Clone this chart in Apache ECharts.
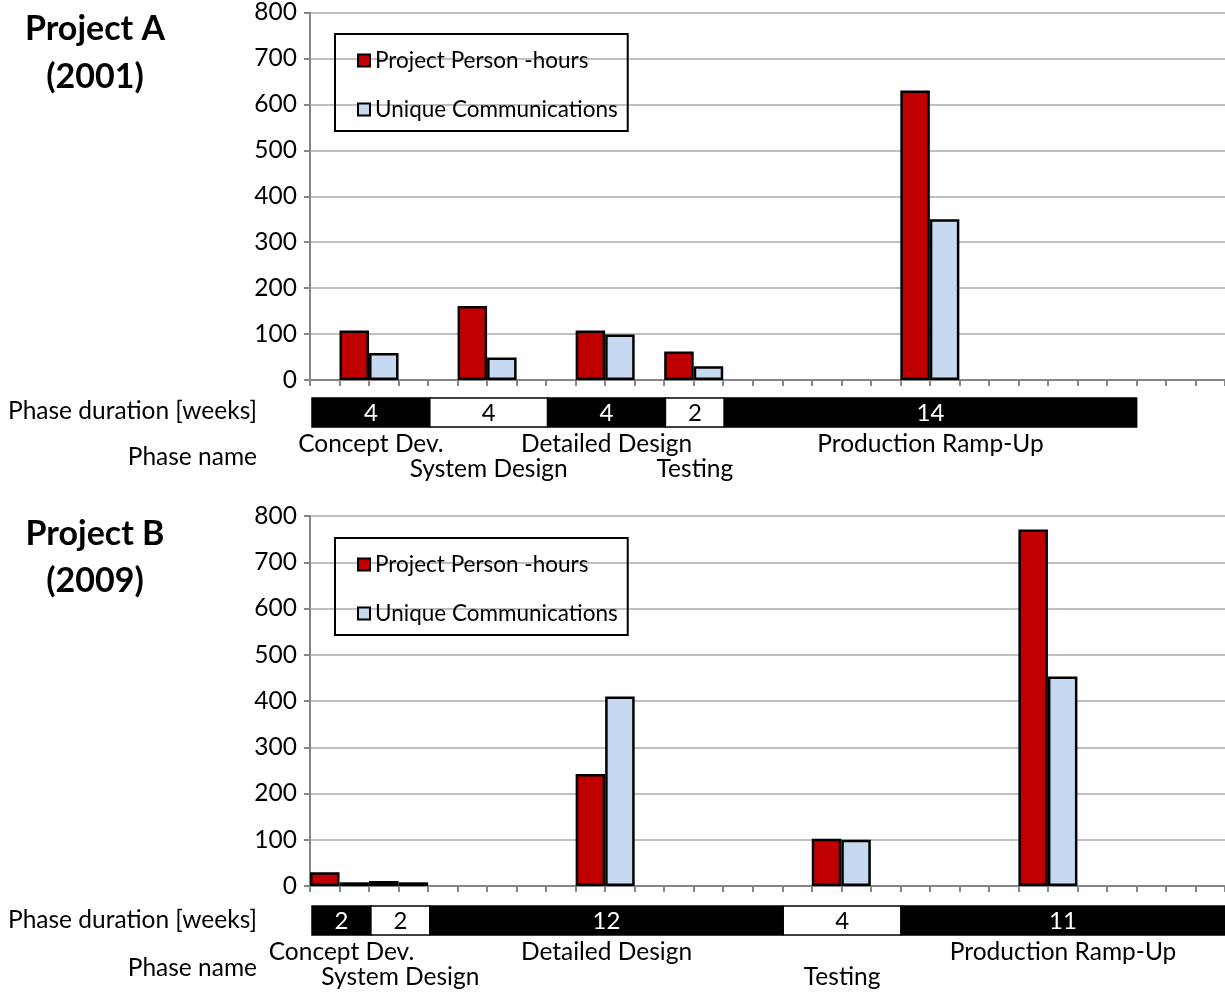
<!DOCTYPE html>
<html>
<head>
<meta charset="utf-8">
<script src="https://cdn.jsdelivr.net/npm/echarts@6/dist/echarts.min.js"></script>
<style>
html,body{margin:0;padding:0;background:#fff;}
#chart{width:1225px;height:996px;}
</style>
</head>
<body>
<div id="chart"></div>
<script>
// ---- Data ----
const weekCategories = ['0','1','2','3','4','5','6','7','8','9','10','11','12','13','14','15','16','17','18','19','20','21','22','23','24','25','26','27','28','29','30'];
const seriesNames = ['Project Person -hours', 'Unique Communications'];

// Project A (2001)
const barWeeksA = [1, 5, 9, 12, 20];
const personHoursA = [108, 161, 108, 62, 630];
const communicationsA = [59, 49, 99, 30, 350];
const phaseDurationsA = [4, 4, 4, 2, 14];
const phaseNamesA = ['Concept Dev.', 'System Design', 'Detailed Design', 'Testing', 'Production Ramp-Up'];

// Project B (2009)
const barWeeksB = [0, 2, 9, 17, 24];
const personHoursB = [30, 11, 242, 102, 771];
const communicationsB = [8, 8, 410, 100, 453];
const phaseDurationsB = [2, 2, 12, 4, 11];
const phaseNamesB = ['Concept Dev.', 'System Design', 'Detailed Design', 'Testing', 'Production Ramp-Up'];

// ---- Helpers ----
function barData(weeks, values, shift) {
  return weeks.map((w, i) => [String(w + shift), values[i]]);
}
function phaseData(durations) {
  let s = 0;
  return durations.map((d, i) => { const item = [s, d, i]; s += d; return item; });
}
function makeRender(names) {
  return function (params, api) {
    const start = api.value(0), dur = api.value(1), i = api.value(2);
    const a = api.coord([start, 0]), b = api.coord([start + dur, 0]);
    const cs = params.coordSys;
    const dark = i % 2 === 0;
    const cx = (a[0] + b[0]) / 2;
    return {
      type: 'group',
      children: [
        { type: 'rect', shape: { x: a[0], y: cs.y, width: b[0] - a[0], height: cs.height },
          style: { fill: dark ? '#000' : '#fff', stroke: '#000', lineWidth: 1.5 } },
        { type: 'text', style: { text: String(dur), x: cx, y: cs.y + cs.height / 2 + 1,
          align: 'center', verticalAlign: 'middle', textAlign: 'center', textVerticalAlign: 'middle',
          fill: dark ? '#fff' : '#000', font: '24px Lato' } },
        { type: 'text', style: { text: names[i], x: cx, y: cs.y + cs.height + (i % 2 === 0 ? 17 : 42),
          align: 'center', verticalAlign: 'middle', textAlign: 'center', textVerticalAlign: 'middle',
          fill: '#000', font: '24.5px Lato' } }
      ]
    };
  };
}

const RED = '#C00000', BLUE = '#C6D9F1';
const axisGray = '#868686';

function catAxis(gi) {
  return { gridIndex: gi, type: 'category', data: weekCategories, boundaryGap: true,
    axisLine: { show: true, lineStyle: { color: axisGray, width: 2 } },
    axisTick: { show: true, interval: 0, length: 6, lineStyle: { color: axisGray, width: 2 } },
    axisLabel: { show: false }, splitLine: { show: false } };
}
function valAxis(gi) {
  return { gridIndex: gi, type: 'value', min: 0, max: 800, interval: 100,
    axisLine: { show: true, lineStyle: { color: axisGray, width: 2 } },
    axisTick: { show: true, length: 6, lineStyle: { color: axisGray, width: 2 } },
    axisLabel: { fontSize: 24.5, color: '#000', margin: 13, fontFamily: 'Lato' },
    splitLine: { show: true, lineStyle: { color: '#c0c0c0', width: 2 } } };
}
function barSeries(name, color, xi, data) {
  return { name: name, type: 'bar', xAxisIndex: xi, yAxisIndex: xi, data: data,
    barWidth: '100%', barGap: '-100%',
    itemStyle: { color: color, borderColor: '#000', borderWidth: 2.5 }, animation: false };
}
function legend(top) {
  return { data: seriesNames, orient: 'vertical', left: 335, top: top,
    itemWidth: 12, itemHeight: 12, itemGap: 26, icon: 'rect',
    padding: [15, 10, 10, 22], borderColor: '#000', borderWidth: 2,
    textStyle: { fontSize: 22.5, lineHeight: 22, color: '#000', fontFamily: 'Lato' },
    selectedMode: false };
}
function txt(text, x, y, font, align) {
  return { type: 'text', x: x, y: y, style: { text: text, font: font, fill: '#000',
    align: align, verticalAlign: 'middle', textAlign: align, textVerticalAlign: 'middle' } };
}

const chart = echarts.init(document.getElementById('chart'), null, { renderer: 'canvas' });
chart.setOption({
  animation: false,
  backgroundColor: '#fff',
  textStyle: { fontFamily: 'Lato' },
  grid: [
    { left: 310, top: 12, width: 919, height: 368 },
    { left: 312, top: 398, width: 919, height: 29 },
    { left: 310, top: 516, width: 919, height: 370 },
    { left: 312, top: 906, width: 919, height: 29 }
  ],
  xAxis: [
    catAxis(0),
    { gridIndex: 1, type: 'value', min: 0, max: 31, show: false },
    catAxis(2),
    { gridIndex: 3, type: 'value', min: 0, max: 31, show: false }
  ],
  yAxis: [
    valAxis(0),
    { gridIndex: 1, type: 'value', min: 0, max: 1, show: false },
    valAxis(2),
    { gridIndex: 3, type: 'value', min: 0, max: 1, show: false }
  ],
  legend: [legend(34), legend(538)],
  series: [
    barSeries(seriesNames[0], RED, 0, barData(barWeeksA, personHoursA, 0)),
    barSeries(seriesNames[1], BLUE, 0, barData(barWeeksA, communicationsA, 1)),
    { type: 'custom', xAxisIndex: 1, yAxisIndex: 1, clip: false, data: phaseData(phaseDurationsA),
      renderItem: makeRender(phaseNamesA), silent: true },
    barSeries(seriesNames[0], RED, 2, barData(barWeeksB, personHoursB, 0)),
    barSeries(seriesNames[1], BLUE, 2, barData(barWeeksB, communicationsB, 1)),
    { type: 'custom', xAxisIndex: 3, yAxisIndex: 3, clip: false, data: phaseData(phaseDurationsB),
      renderItem: makeRender(phaseNamesB), silent: true }
  ],
  graphic: [
    txt('Project A', 95, 29, 'bold 34px Lato', 'center'),
    txt('(2001)', 95, 77, 'bold 34px Lato', 'center'),
    txt('Phase duration [weeks]', 257, 411, '24.5px Lato', 'right'),
    txt('Phase name', 257, 457, '24.5px Lato', 'right'),
    txt('Project B', 95, 534, 'bold 34px Lato', 'center'),
    txt('(2009)', 95, 581, 'bold 34px Lato', 'center'),
    txt('Phase duration [weeks]', 257, 920, '24.5px Lato', 'right'),
    txt('Phase name', 257, 968, '24.5px Lato', 'right')
  ]
});
</script>
</body>
</html>
